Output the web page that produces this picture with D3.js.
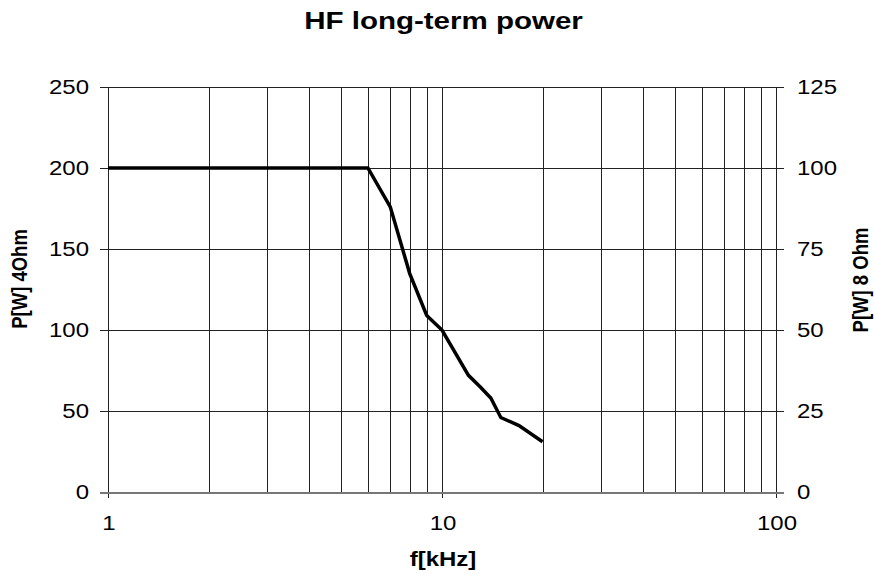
<!DOCTYPE html>
<html><head><meta charset="utf-8">
<script src="https://cdn.jsdelivr.net/npm/d3@7"></script>
<style>body{margin:0;background:#fff}svg{display:block}text{font-family:"Liberation Sans",Arial,sans-serif;fill:#000}</style>
</head><body><svg id="c" width="874" height="575"></svg>
<script>
const freqKHz = [1, 6, 7, 8, 9, 10, 12, 13, 14, 15, 17, 20];
const power4Ohm = [200, 200, 176, 135, 109, 100, 72, 65, 58, 46, 41, 31];
const leftTicks = [0, 50, 100, 150, 200, 250];
const rightTicks = [0, 25, 50, 75, 100, 125];
const xLabelTicks = [1, 10, 100];
const xGrid = [1,2,3,4,5,6,7,8,9,10,20,30,40,50,60,70,80,90,100];

const svg = d3.select("#c");
const L = 108, R = 776, T = 87, B = 492;
const SX = 1.23; // horizontal stretch of the text
const x = d3.scaleLog().domain([1, 100]).range([L, R]);
const yL = d3.scaleLinear().domain([0, 250]).range([B, T]);
const yR = d3.scaleLinear().domain([0, 125]).range([B, T]);

const g = svg.append("g").attr("shape-rendering", "crispEdges");
g.selectAll(".vg").data(xGrid).join("line")
  .attr("x1", d => Math.round(x(d)) + 0.5).attr("x2", d => Math.round(x(d)) + 0.5)
  .attr("y1", T).attr("y2", d => xLabelTicks.includes(d) ? B + 6 : B)
  .attr("stroke", "#222").attr("stroke-width", 1);
g.selectAll(".hg").data(leftTicks).join("line")
  .attr("x1", L - 8).attr("x2", R + 8)
  .attr("y1", d => Math.round(yL(d)) + 0.5).attr("y2", d => Math.round(yL(d)) + 0.5)
  .attr("stroke", d => d === 0 ? "#777" : "#222").attr("stroke-width", d => d === 0 ? 2 : 1);

function lab(px, py, txt, anchor, size, bold) {
  svg.append("text").attr("transform", `translate(${px},${py}) scale(${SX},1)`)
    .attr("text-anchor", anchor).attr("font-size", size)
    .attr("font-weight", bold ? "bold" : "normal").text(txt);
}
leftTicks.forEach(v => lab(89, yL(v) + 7, String(v), "end", 19.5, false));
rightTicks.forEach(v => lab(797, yR(v) + 7, String(v), "start", 19.5, false));
xLabelTicks.forEach(v => lab(x(v) + 1, 530, String(v), "middle", 19.5, false));

svg.append("path").datum(freqKHz.map((f, i) => [f, power4Ohm[i]]))
  .attr("fill", "none").attr("stroke", "#000").attr("stroke-width", 3.5)
  .attr("stroke-linejoin", "miter")
  .attr("d", d3.line().x(d => x(d[0])).y(d => yL(d[1])));

lab(443.5, 29, "HF long-term power", "middle", 24, true);
lab(443, 566, "f[kHz]", "middle", 19.5, true);
svg.append("text").attr("transform", "translate(27,279) rotate(-90) scale(1,1.2)").attr("text-anchor", "middle")
  .attr("font-size", 18.5).attr("font-weight", "bold").text("P[W] 4Ohm");
svg.append("text").attr("transform", "translate(868,280) rotate(-90) scale(1,1.2)").attr("text-anchor", "middle")
  .attr("font-size", 18.5).attr("font-weight", "bold").text("P[W] 8 Ohm");
</script></body></html>
